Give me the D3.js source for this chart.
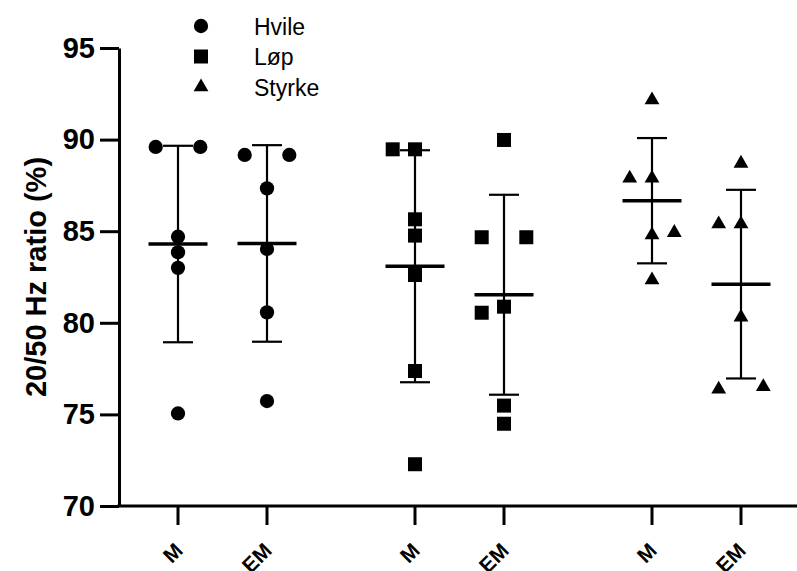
<!DOCTYPE html>
<html>
<head>
<meta charset="utf-8">
<script src="https://cdn.jsdelivr.net/npm/d3@7"></script>
<style>
  body { margin: 0; background: #fff; }
  svg { display: block; font-family: "Liberation Sans", Arial, sans-serif; }
</style>
</head>
<body>
<div id="chart"></div>
<script>
const WIDTH = 797;
const HEIGHT = 571;

// groups and columns
const groups = ["Hvile", "Løp", "Styrke"];
const columns = ["M", "EM"];
const yTicks = [70, 75, 80, 85, 90, 95];

// values, one array per column
const hvileM = [89.6, 89.6, 84.7, 83.85, 83.0, 75.05];
const hvileEM = [89.16, 89.16, 87.34, 84.03, 80.57, 75.73];
const lopM = [89.47, 89.47, 85.65, 84.76, 82.61, 77.37, 72.28];
const lopEM = [89.98, 84.67, 84.67, 80.88, 80.55, 75.48, 74.49];
const styrkeM = [92.16, 87.89, 87.89, 84.92, 84.79, 82.34];
const styrkeEM = [88.7, 85.39, 85.39, 80.3, 76.37, 76.51];

// scatter lane of each point (-1 left, 0 centre, 1 right)
const hvileMLane = [-1, 1, 0, 0, 0, 0];
const hvileEMLane = [-1, 1, 0, 0, 0, 0];
const lopMLane = [-1, 0, 0, 0, 0, 0, 0];
const lopEMLane = [0, -1, 1, 0, -1, 0, 0];
const styrkeMLane = [0, -1, 0, 1, 0, 0];
const styrkeEMLane = [0, -1, 0, 0, -1, 1];

const series = [
  { group: "Hvile", col: "M", values: hvileM, lanes: hvileMLane },
  { group: "Hvile", col: "EM", values: hvileEM, lanes: hvileEMLane },
  { group: "Løp", col: "M", values: lopM, lanes: lopMLane },
  { group: "Løp", col: "EM", values: lopEM, lanes: lopEMLane },
  { group: "Styrke", col: "M", values: styrkeM, lanes: styrkeMLane },
  { group: "Styrke", col: "EM", values: styrkeEM, lanes: styrkeEMLane }
];

const symbolType = {
  "Hvile": d3.symbolCircle,
  "Løp": d3.symbolSquare,
  "Styrke": d3.symbolTriangle
};
const symbolSize = { "Hvile": 160, "Løp": 196, "Styrke": 95 };

const margin = { left: 119, top: 48, bottom: 506 };

const svg = d3.select("#chart").append("svg")
  .attr("xmlns", "http://www.w3.org/2000/svg")
  .attr("width", WIDTH)
  .attr("height", HEIGHT);

const y = d3.scaleLinear().domain([70, 95]).range([margin.bottom, margin.top]);
const xGroup = d3.scalePoint().domain(groups).range([222.5, 696.5]);
const xCol = d3.scalePoint().domain(columns).range([-44.5, 44.5]);
const laneStep = 22.3;
const colX = (d) => xGroup(d.group) + xCol(d.col);

// y axis
const yAxis = svg.append("g")
  .attr("transform", `translate(${margin.left},0)`)
  .call(d3.axisLeft(y).tickValues(yTicks).tickSize(19).tickPadding(5).tickSizeOuter(0));
yAxis.select(".domain").attr("stroke-width", 3).attr("stroke", "#000");
yAxis.selectAll(".tick line").attr("stroke-width", 3).attr("stroke", "#000");
yAxis.selectAll(".tick text")
  .attr("fill", "#000")
  .style("font-size", "29px")
  .style("font-weight", "bold")
  .style("font-family", "'Liberation Sans', Arial, sans-serif");

svg.append("text")
  .attr("transform", `translate(36,${(margin.top + margin.bottom) / 2}) rotate(-90)`)
  .attr("text-anchor", "middle")
  .attr("dominant-baseline", "central")
  .style("font-size", "29px")
  .style("font-weight", "bold")
  .text("20/50 Hz ratio (%)");

// x axis
const xAxis = svg.append("g");
xAxis.append("line")
  .attr("x1", margin.left - 1.5).attr("x2", WIDTH)
  .attr("y1", margin.bottom).attr("y2", margin.bottom)
  .attr("stroke", "#000").attr("stroke-width", 3);

const xTick = xAxis.selectAll(".xtick")
  .data(series)
  .enter().append("g")
  .attr("class", "xtick")
  .attr("transform", (d) => `translate(${colX(d)},${margin.bottom})`);
xTick.append("line")
  .attr("y1", 0).attr("y2", 19)
  .attr("stroke", "#000").attr("stroke-width", 3);
xTick.append("text")
  .attr("transform", "translate(6,46) rotate(-45)")
  .attr("text-anchor", "end")
  .style("font-size", "21px")
  .style("font-weight", "bold")
  .text((d) => d.col);

// mean and SD bars
const stats = svg.append("g").selectAll("g")
  .data(series)
  .enter().append("g")
  .attr("transform", (d) => `translate(${colX(d)},0)`);

stats.each(function (d) {
  const g = d3.select(this);
  const m = d3.mean(d.values);
  const sd = d3.deviation(d.values);
  g.append("line")
    .attr("y1", y(m + sd)).attr("y2", y(m - sd))
    .attr("stroke", "#000").attr("stroke-width", 2.2);
  [m + sd, m - sd].forEach((v) => {
    g.append("line")
      .attr("x1", -15).attr("x2", 15)
      .attr("y1", y(v)).attr("y2", y(v))
      .attr("stroke", "#000").attr("stroke-width", 2.2);
  });
  g.append("line")
    .attr("x1", -29.5).attr("x2", 29.5)
    .attr("y1", y(m)).attr("y2", y(m))
    .attr("stroke", "#000").attr("stroke-width", 3.5);
});

// points
stats.each(function (d) {
  d3.select(this).selectAll("path.pt")
    .data(d.values.map((v, i) => ({ v: v, lane: d.lanes[i] })))
    .enter().append("path")
    .attr("class", "pt")
    .attr("d", d3.symbol().type(symbolType[d.group]).size(symbolSize[d.group]))
    .attr("transform", (p) => `translate(${p.lane * laneStep},${y(p.v)})`)
    .attr("fill", "#000");
});

// legend
const legend = svg.append("g").selectAll("g")
  .data(groups)
  .enter().append("g")
  .attr("transform", (d, i) => `translate(201,${26 + 30.5 * i})`);
legend.append("path")
  .attr("d", (d) => d3.symbol().type(symbolType[d]).size(symbolSize[d])())
  .attr("fill", "#000");
legend.append("text")
  .attr("x", 53)
  .attr("y", 8.5)
  .style("font-size", "23px")
  .text((d) => d);
</script>
</body>
</html>
